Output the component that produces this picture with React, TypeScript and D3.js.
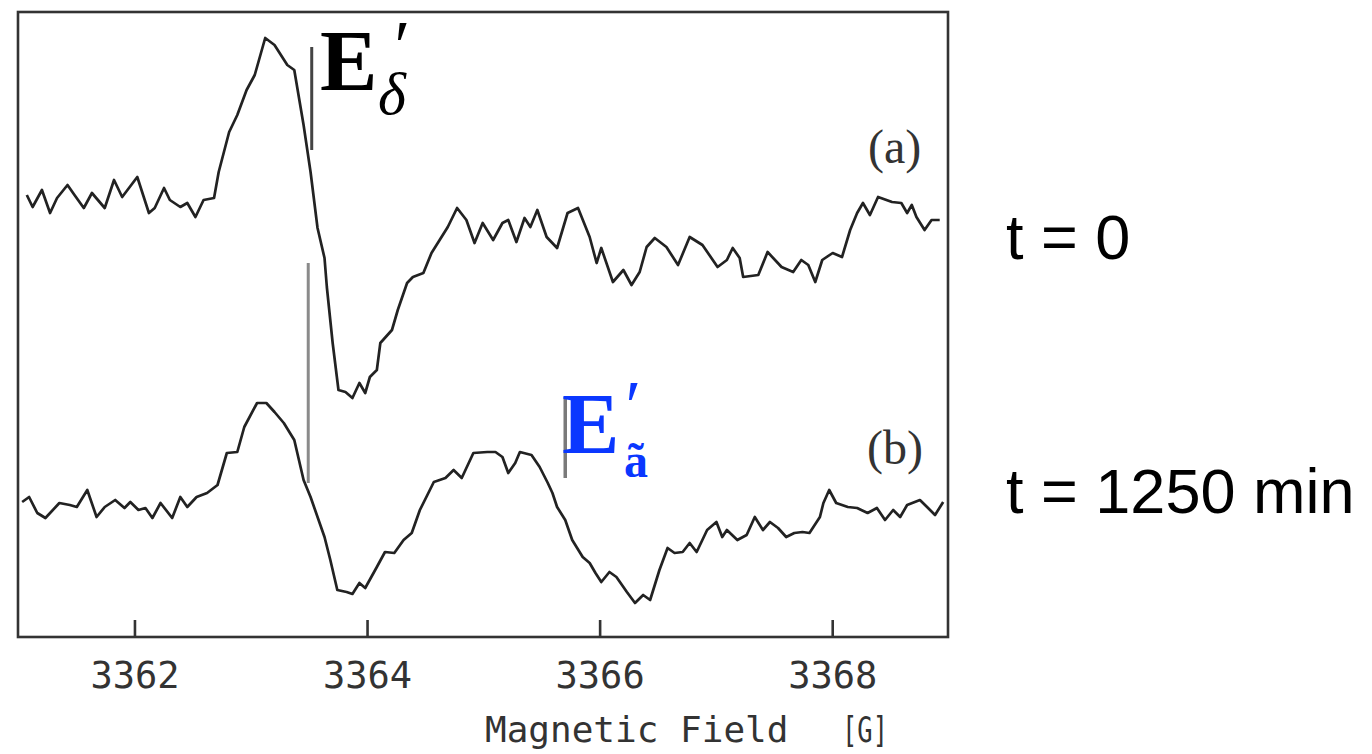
import React from "react";
import * as d3 from "d3";

// EPR derivative spectra: field in gauss, intensity in arbitrary units (relative to each trace's baseline)
const fieldA = [
  3361.07, 3361.12, 3361.2, 3361.27, 3361.33, 3361.42, 3361.48, 3361.56, 3361.63, 3361.74,
  3361.82, 3361.89, 3362.02, 3362.12, 3362.17, 3362.25, 3362.3, 3362.39, 3362.45, 3362.52,
  3362.59, 3362.68, 3362.72, 3362.81, 3362.88, 3362.96, 3363.03, 3363.12, 3363.2, 3363.31,
  3363.37, 3363.45, 3363.51, 3363.57, 3363.63, 3363.65, 3363.7, 3363.75, 3363.81, 3363.87,
  3363.93, 3363.98, 3364.02, 3364.08, 3364.11, 3364.21, 3364.26, 3364.34, 3364.39, 3364.48,
  3364.55, 3364.62, 3364.69, 3364.77, 3364.85, 3364.92, 3364.99, 3365.08, 3365.16, 3365.21,
  3365.28, 3365.35, 3365.4, 3365.46, 3365.54, 3365.63, 3365.72, 3365.81, 3365.91, 3365.97,
  3366.01, 3366.11, 3366.2, 3366.27, 3366.34, 3366.4, 3366.47, 3366.57, 3366.67, 3366.77,
  3366.88, 3367.01, 3367.09, 3367.14, 3367.2, 3367.23, 3367.36, 3367.44, 3367.56, 3367.66,
  3367.73, 3367.79, 3367.85, 3367.91, 3368.0, 3368.08, 3368.15, 3368.21, 3368.26, 3368.32,
  3368.39, 3368.51, 3368.59, 3368.64, 3368.68, 3368.72, 3368.79, 3368.85, 3368.92,
];
const intensityA = [
  5, -7, 10, -13, 2, 15, 5, -8, 7, -8,
  20, 3, 23, -13, -8, 12, 0, -7, -3, -17,
  0, 2, 28, 68, 85, 110, 125, 162, 155, 135,
  130, 75, 28, -28, -58, -87, -143, -190, -192, -198,
  -183, -193, -177, -170, -143, -130, -110, -83, -77, -73,
  -53, -40, -27, -8, -20, -43, -23, -40, -23, -20,
  -42, -18, -27, -10, -37, -48, -13, -8, -37, -63,
  -48, -82, -70, -85, -72, -47, -38, -47, -65, -37,
  -45, -67, -60, -48, -58, -77, -75, -52, -67, -72,
  -60, -65, -82, -60, -53, -57, -30, -13, -3, -15,
  3, -2, -3, -13, -5, -17, -30, -20, -20,
];

const fieldB = [
  3361.03, 3361.09, 3361.16, 3361.23, 3361.35, 3361.44, 3361.5, 3361.59, 3361.67, 3361.74,
  3361.83, 3361.91, 3361.96, 3362.03, 3362.09, 3362.15, 3362.22, 3362.32, 3362.39, 3362.45,
  3362.53, 3362.62, 3362.71, 3362.79, 3362.88, 3362.94, 3363.05, 3363.13, 3363.2, 3363.28,
  3363.37, 3363.45, 3363.51, 3363.63, 3363.68, 3363.74, 3363.82, 3363.87, 3363.93, 3363.98,
  3364.08, 3364.15, 3364.23, 3364.31, 3364.38, 3364.45, 3364.57, 3364.67, 3364.74, 3364.81,
  3364.91, 3365.03, 3365.1, 3365.16, 3365.21, 3365.27, 3365.31, 3365.41, 3365.48, 3365.55,
  3365.59, 3365.63, 3365.7, 3365.76, 3365.85, 3365.91, 3365.96, 3366.01, 3366.08, 3366.14,
  3366.23, 3366.3, 3366.37, 3366.43, 3366.51, 3366.58, 3366.64, 3366.71, 3366.77, 3366.83,
  3366.92, 3367.0, 3367.05, 3367.09, 3367.18, 3367.26, 3367.33, 3367.4, 3367.46, 3367.53,
  3367.6, 3367.67, 3367.74, 3367.8, 3367.89, 3367.92, 3367.97, 3368.03, 3368.13, 3368.21,
  3368.3, 3368.38, 3368.45, 3368.52, 3368.58, 3368.64, 3368.75, 3368.82, 3368.88, 3368.95,
];
const intensityB = [
  3, 8, -8, -13, 2, 0, -2, 15, -12, -2,
  5, -3, 3, -5, -3, -13, 2, -13, 8, -2,
  8, 12, 20, 52, 53, 78, 102, 102, 93, 82,
  65, 25, 8, -32, -55, -85, -87, -89, -78, -83,
  -62, -47, -48, -35, -28, -5, 23, 27, 35, 27,
  52, 53, 53, 48, 32, 42, 53, 50, 38, 22,
  12, -2, -15, -35, -52, -58, -68, -77, -67, -72,
  -87, -98, -90, -95, -65, -43, -48, -47, -38, -47,
  -25, -17, -32, -25, -35, -30, -12, -25, -17, -23,
  -32, -28, -27, -28, -12, 2, 15, 2, -2, -3,
  -8, -3, -15, -5, -12, 0, 5, -3, -10, 3,
];

// vertical offsets that stack the two traces
const traceOffsets = [437, 132];
const traceTags = ["(a)", "(b)"];
const timeLabels = ["t = 0", "t = 1250 min"];
const tickValues = [3362, 3364, 3366, 3368];

// resonance markers: field position and vertical extent (same units as the stacked traces)
const markerDelta = { field: 3363.52, from: 487, to: 590 };
const markerDeltaLow = { field: 3363.49, from: 154, to: 374 };
const markerA = { field: 3365.7, from: 159, to: 240 };

const W = 1372;
const H = 754;
const frame = { left: 18, right: 948, top: 12, bottom: 637 };

export default function App() {
  const x = d3.scaleLinear().domain([3361, 3369]).range([18.67, 949]);
  const y = d3.scaleLinear().domain([0, 625]).range([frame.bottom, frame.top]);

  const line = (offset: number) =>
    d3
      .line<[number, number]>()
      .x((d) => x(d[0]))
      .y((d) => y(d[1] + offset))
      .curve(d3.curveLinear);

  const pathA = line(traceOffsets[0])(fieldA.map((f, i) => [f, intensityA[i]]));
  const pathB = line(traceOffsets[1])(fieldB.map((f, i) => [f, intensityB[i]]));

  const ink = "#222";
  const mono = "'DejaVu Sans Mono', 'Liberation Mono', monospace";
  const serif = "'Liberation Serif', 'Times New Roman', serif";
  const blue = "#0a37ff";

  return (
    <svg
      width={W}
      height={H}
      viewBox={`0 0 ${W} ${H}`}
      style={{ position: "absolute", left: 0, top: 0, background: "#fff" }}
    >
      <rect x={0} y={0} width={W} height={H} fill="#fff" />
      {/* plot frame */}
      <rect
        x={frame.left}
        y={frame.top}
        width={frame.right - frame.left}
        height={frame.bottom - frame.top}
        fill="none"
        stroke="#333"
        strokeWidth={2.6}
      />
      {/* inward ticks and labels */}
      {tickValues.map((t) => (
        <g key={t}>
          <line x1={x(t)} x2={x(t)} y1={frame.bottom} y2={frame.bottom - 17} stroke="#333" strokeWidth={2.6} />
          <text x={x(t)} y={688} textAnchor="middle" fontFamily={mono} fontSize={37} fill="#333">
            {t}
          </text>
        </g>
      ))}
      <text x={485} y={742} fontFamily={mono} fontSize={36} fill="#333">
        Magnetic Field
      </text>
      <text x={842} y={742} fontFamily={mono} fontSize={36} fill="#333" textLength={46} lengthAdjust="spacingAndGlyphs">
        [G]
      </text>

      {/* spectra */}
      <path d={pathA ?? ""} fill="none" stroke={ink} strokeWidth={2.7} strokeLinejoin="round" />
      <path d={pathB ?? ""} fill="none" stroke={ink} strokeWidth={2.7} strokeLinejoin="round" />

      {/* resonance markers */}
      <line x1={x(markerDelta.field)} x2={x(markerDelta.field)} y1={y(markerDelta.from)} y2={y(markerDelta.to)} stroke="#444" strokeWidth={3} />
      <line x1={x(markerDeltaLow.field)} x2={x(markerDeltaLow.field)} y1={y(markerDeltaLow.from)} y2={y(markerDeltaLow.to)} stroke="#8a8a8a" strokeWidth={3} />
      <line x1={x(markerA.field)} x2={x(markerA.field)} y1={y(markerA.from)} y2={y(markerA.to)} stroke="#7a7a7a" strokeWidth={3.5} />

      {/* E'_delta label */}
      <text fontFamily={serif} fill="#000">
        <tspan x={320} y={90} fontWeight="bold" fontSize={86}>E</tspan>
        <tspan x={390} y={70} fontStyle="italic" fontSize={72}>′</tspan>
        <tspan x={378} y={114} fontStyle="italic" fontSize={60}>δ</tspan>
      </text>

      {/* E'_ã label */}
      <text fontFamily={serif} fill={blue}>
        <tspan x={562} y={453} fontWeight="bold" fontSize={86}>E</tspan>
        <tspan x={621} y={430} fontStyle="italic" fontSize={72}>′</tspan>
        <tspan x={624} y={477} fontWeight="bold" fontSize={48}>ã</tspan>
      </text>

      {/* trace tags */}
      <text x={868} y={163} fontFamily={serif} fontSize={48} fill="#333">
        {traceTags[0]}
      </text>
      <text x={867} y={464} fontFamily={serif} fontSize={48} fill="#333">
        {traceTags[1]}
      </text>

      {/* time labels */}
      <text x={1006} y={259} fontFamily="'Liberation Sans', Arial, sans-serif" fontSize={63} fill="#000">
        {timeLabels[0]}
      </text>
      <text x={1006} y={513} fontFamily="'Liberation Sans', Arial, sans-serif" fontSize={63} fill="#000">
        {timeLabels[1]}
      </text>
    </svg>
  );
}
